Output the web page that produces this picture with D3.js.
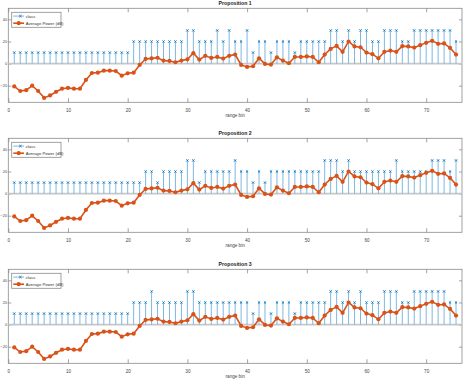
<!DOCTYPE html>
<html>
<head>
<meta charset="utf-8">
<script src="https://cdn.jsdelivr.net/npm/d3@7"></script>
<style>
  body { margin: 0; background: #fff; }
  svg { display: block; font-family: "Liberation Sans", Arial, sans-serif; }
</style>
</head>
<body>
<div id="chart"></div>
<script>
const titles = ["Proposition 1", "Proposition 2", "Proposition 3"];
const xTicks = [0, 10, 20, 30, 40, 50, 60, 70];
const yTicks = [-20, 0, 20, 40];

// average power (dB), range bins 1..75, same in every panel
const avgPower = [-20.6, -24.8, -24, -20, -24.8, -31, -28.8, -25.5, -22.7, -22, -22.7, -22.7,
  -14.8, -8.5, -8.2, -6.4, -6.4, -6.7, -10.9, -8.8, -8.2,
  -1.2, 4.2, 4.7, 5.3,
  2.7, 2.4, 1.2, 2.7, 3.9, 9.4, 3.6, 7, 5.1, 6, 4.5, 7, 8.2,
  -1.2, -3, -2.4, 4.8, -0.3, -0.9, 5.7, 2.7, 0.3, 6, 6, 6.5,
  6, 1.2, 8.2, 13.3, 16, 10.6, 20, 15.5, 14.8, 10, 8.5, 4.8, 10.6, 11.8, 10.6,
  15.8, 15.5, 14.5, 16.7, 18.8, 20.6, 17.9, 18.2, 14.2, 8.2];

// class stems per panel
const class1 = [10, 10, 10, 10, 10, 10, 10, 10, 10, 10, 10, 10, 10, 10, 10, 10, 10, 10, 10, 10,
  20, 20, 20, 20, 20, 20, 20, 20, 20, 30, 30, 20, 20, 20, 30, 20, 30, 20, 20, 30,
  10, 20, 20, 10, 20, 20, 20, 10, 20, 20, 20, 20, 20, 30, 30, 20, 30, 20, 30, 30,
  20, 20, 30, 30, 30, 20, 20, 30, 30, 30, 30, 30, 30, 30, 20];
const class2 = [10, 10, 10, 10, 10, 10, 10, 10, 10, 10, 10, 10, 10, 10, 10, 10, 10, 10, 10, 10,
  10, 10, 20, 20, 10, 20, 20, 20, 20, 30, 30, 10, 20, 20, 20, 20, 20, 30, 20, 20,
  10, 20, 10, 20, 20, 20, 20, 20, 20, 20, 20, 20, 30, 30, 30, 20, 30, 20, 20, 20,
  20, 20, 20, 20, 30, 20, 20, 20, 20, 20, 30, 30, 30, 20, 30];
const class3 = [10, 10, 10, 10, 10, 10, 10, 10, 10, 10, 10, 10, 10, 10, 10, 10, 10, 10, 10, 10,
  20, 20, 20, 30, 20, 20, 20, 20, 20, 30, 30, 20, 20, 20, 20, 20, 20, 20, 20, 20,
  10, 20, 20, 10, 20, 20, 20, 10, 20, 20, 20, 20, 20, 30, 30, 20, 30, 20, 30, 20,
  20, 20, 30, 30, 30, 20, 20, 30, 30, 30, 30, 30, 30, 20, 20];

const classes = [class1, class2, class3];
const bins = avgPower.map((d, i) => i + 1);

const W = 463, H = 382;
const left = 8.3, right = 462;
const tops = [8.3, 138.3, 269.3];
const ph = 94;

const blue = "#0072BD", orange = "#D95319";

const svg = d3.select("#chart").append("svg")
  .attr("width", W).attr("height", H);

const x = d3.scaleLinear().domain([0, 76]).range([left, right]);

tops.forEach((top, p) => {
  const y = d3.scaleLinear().domain([-35, 50]).range([top + ph, top]);
  const g = svg.append("g");

  // box
  g.append("rect")
    .attr("x", left).attr("y", top)
    .attr("width", right - left).attr("height", ph)
    .attr("fill", "#fff").attr("stroke", "#8a8a8a").attr("stroke-width", 0.8);

  // axes with inward ticks
  const xb = g.append("g").attr("transform", `translate(0,${top + ph})`)
    .call(d3.axisBottom(x).tickValues(xTicks).tickSizeInner(-4).tickSizeOuter(0).tickPadding(6));
  const xt = g.append("g").attr("transform", `translate(0,${top})`)
    .call(d3.axisTop(x).tickValues(xTicks).tickSizeInner(-4).tickSizeOuter(0).tickFormat(""));
  const yl = g.append("g").attr("transform", `translate(${left},0)`)
    .call(d3.axisLeft(y).tickValues(yTicks).tickSizeInner(-3).tickSizeOuter(0).tickPadding(1.2));
  const yr = g.append("g").attr("transform", `translate(${right},0)`)
    .call(d3.axisRight(y).tickValues(yTicks).tickSizeInner(-3).tickSizeOuter(0).tickFormat(""));
  [xb, xt, yl, yr].forEach(a => {
    a.select(".domain").remove();
    a.selectAll("line").attr("stroke", "#8a8a8a").attr("stroke-width", 0.8);
    a.selectAll("text").attr("font-size", 4.6).attr("fill", "#444");
  });
  yl.selectAll("text").attr("font-size", 4);

  // stem baseline
  g.append("line")
    .attr("x1", left).attr("x2", right)
    .attr("y1", y(0)).attr("y2", y(0))
    .attr("stroke", "#c8c8c8").attr("stroke-width", 1.8);

  // class stems
  const cls = classes[p];
  g.selectAll(".stem").data(bins).enter().append("line")
    .attr("class", "stem")
    .attr("x1", d => x(d)).attr("x2", d => x(d))
    .attr("y1", y(0)).attr("y2", d => y(cls[d - 1]))
    .attr("stroke", "#6fb0de").attr("stroke-width", 0.9);
  g.selectAll(".mk").data(bins).enter().append("path")
    .attr("class", "mk")
    .attr("d", d => {
      const cx = x(d), cy = y(cls[d - 1]), s = 1.1;
      return `M${cx - s},${cy - s}L${cx + s},${cy + s}M${cx - s},${cy + s}L${cx + s},${cy - s}`;
    })
    .attr("stroke", blue).attr("stroke-width", 0.9);

  // average power line
  g.append("path")
    .datum(bins)
    .attr("fill", "none").attr("stroke", orange).attr("stroke-width", 1.6)
    .attr("d", d3.line().x(d => x(d)).y(d => y(avgPower[d - 1])));
  g.selectAll(".pt").data(bins).enter().append("circle")
    .attr("class", "pt")
    .attr("cx", d => x(d)).attr("cy", d => y(avgPower[d - 1]))
    .attr("r", 2.1).attr("fill", orange);

  // title and x label
  g.append("text")
    .attr("x", (left + right) / 2).attr("y", top - 3.3)
    .attr("text-anchor", "middle").attr("font-size", 5.2).attr("font-weight", "bold")
    .attr("fill", "#222").text(titles[p]);
  g.append("text")
    .attr("x", (left + right) / 2).attr("y", top + ph + 14.5)
    .attr("text-anchor", "middle").attr("font-size", 4.6)
    .attr("fill", "#444").text("range bin");

  // legend
  const lg = g.append("g").attr("transform", `translate(11.7,${top + 4})`);
  lg.append("rect").attr("width", 49.3).attr("height", 15)
    .attr("fill", "#fff").attr("stroke", "#8a8a8a").attr("stroke-width", 0.8);
  lg.append("line").attr("x1", 1.6).attr("x2", 12.3).attr("y1", 3.8).attr("y2", 3.8)
    .attr("stroke", "#6fb0de").attr("stroke-width", 0.9);
  lg.append("path").attr("d", "M7.6,2.7L9.8,4.9M7.6,4.9L9.8,2.7")
    .attr("stroke", blue).attr("stroke-width", 0.9);
  lg.append("text").attr("x", 14).attr("y", 5.4).attr("font-size", 4.2)
    .attr("fill", "#333").text("class");
  lg.append("line").attr("x1", 1.6).attr("x2", 12.3).attr("y1", 10.9).attr("y2", 10.9)
    .attr("stroke", orange).attr("stroke-width", 1.6);
  lg.append("circle").attr("cx", 7).attr("cy", 10.9).attr("r", 2.1).attr("fill", orange);
  lg.append("text").attr("x", 14).attr("y", 12.5).attr("font-size", 4.2)
    .attr("fill", "#333").text("Average Power (dB)");
});
</script>
</body>
</html>
